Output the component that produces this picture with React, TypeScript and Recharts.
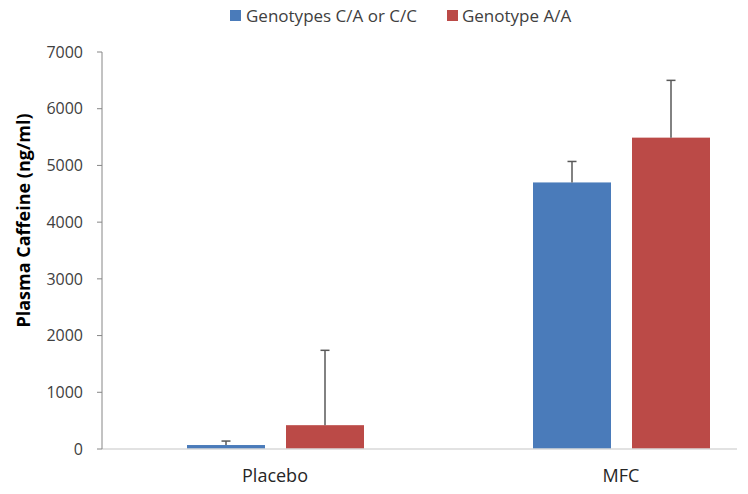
import React from 'react';
import { BarChart, Bar, XAxis, YAxis } from 'recharts';

const categories = ['Placebo', 'MFC'];
const genotypeCA = [70, 4700];
const genotypeAA = [420, 5490];
const errorCA = [70, 370];
const errorAA = [1320, 1010];
const yTicks = [0, 1000, 2000, 3000, 4000, 5000, 6000, 7000];

const seriesNames = ['Genotypes C/A or C/C', 'Genotype A/A'];
const BLUE = '#4A7BBA';
const RED = '#BB4A47';
const FONT = '"Open Sans", sans-serif';

const data = categories.map((c, i) => ({
  name: c,
  ca: genotypeCA[i],
  aa: genotypeAA[i],
  eca: errorCA[i],
  eaa: errorAA[i],
}));

const makeShape = (valKey: string, errKey: string) => (props: any) => {
  const { x, y, width, height, fill, payload } = props;
  const val = payload[valKey];
  const err = payload[errKey];
  const ratio = val ? height / val : 0;
  const cx = x + width / 2;
  const top = y - err * ratio;
  return (
    <g>
      <rect x={x} y={y} width={width} height={height} fill={fill} />
      <line x1={cx} y1={y} x2={cx} y2={top} stroke="#595959" strokeWidth={1.5} />
      <line x1={cx - 4.5} y1={top} x2={cx + 4.5} y2={top} stroke="#595959" strokeWidth={1.5} />
    </g>
  );
};

const YLabel = (props: any) => {
  const vb = props.viewBox;
  const x = vb.x + 15;
  const y = vb.y + vb.height / 2 - 30;
  return (
    <text
      x={x}
      y={y}
      transform={`rotate(-90, ${x}, ${y})`}
      textAnchor="middle"
      dominantBaseline="central"
      fontFamily={FONT}
      fontSize={18}
      fontWeight="bold"
      fill="#000"
    >
      Plasma Caffeine (ng/ml)
    </text>
  );
};

export default function App() {
  return (
    <div style={{ position: 'relative', width: 729, height: 478, fontFamily: FONT }}>
      <div
        style={{
          position: 'absolute',
          top: -4,
          left: 222,
          display: 'flex',
          alignItems: 'center',
          fontSize: 17,
          lineHeight: 'normal',
          color: '#404040',
          whiteSpace: 'nowrap',
          zIndex: 2,
        }}
      >
        <span style={{ display: 'inline-block', width: 11, height: 11, background: BLUE, marginRight: 5 }} />
        <span>{seriesNames[0]}</span>
        <span style={{ display: 'inline-block', width: 11, height: 11, background: RED, marginLeft: 30, marginRight: 4 }} />
        <span>{seriesNames[1]}</span>
      </div>
      <div style={{ position: 'absolute', top: 0, left: 0, width: 729, height: 478, overflow: 'hidden' }}>
        <BarChart
          width={800}
          height={478}
          data={data}
          margin={{ top: 44, right: 14, bottom: 7, left: 0 }}
          barSize={78}
          barGap={21}
        >
          <XAxis
            dataKey="name"
            axisLine={{ stroke: '#D9D9D9', strokeWidth: 1.5 }}
            tickLine={false}
            tickSize={0}
            tickMargin={20}
            height={30}
            tick={{ fontFamily: FONT, fontSize: 18, fill: '#262626' }}
          />
          <YAxis
            domain={[0, 7000]}
            ticks={yTicks}
            interval={0}
            width={94}
            axisLine={{ stroke: '#868686', strokeWidth: 1 }}
            tickLine={{ stroke: '#868686' }}
            tickSize={5}
            tickMargin={14}
            tick={{ fontFamily: FONT, fontSize: 16, fill: '#404040' }}
            label={{ content: YLabel }}
          />
          <Bar dataKey="ca" name={seriesNames[0]} fill={BLUE} isAnimationActive={false} shape={makeShape('ca', 'eca')} />
          <Bar dataKey="aa" name={seriesNames[1]} fill={RED} isAnimationActive={false} shape={makeShape('aa', 'eaa')} />
        </BarChart>
      </div>
    </div>
  );
}
